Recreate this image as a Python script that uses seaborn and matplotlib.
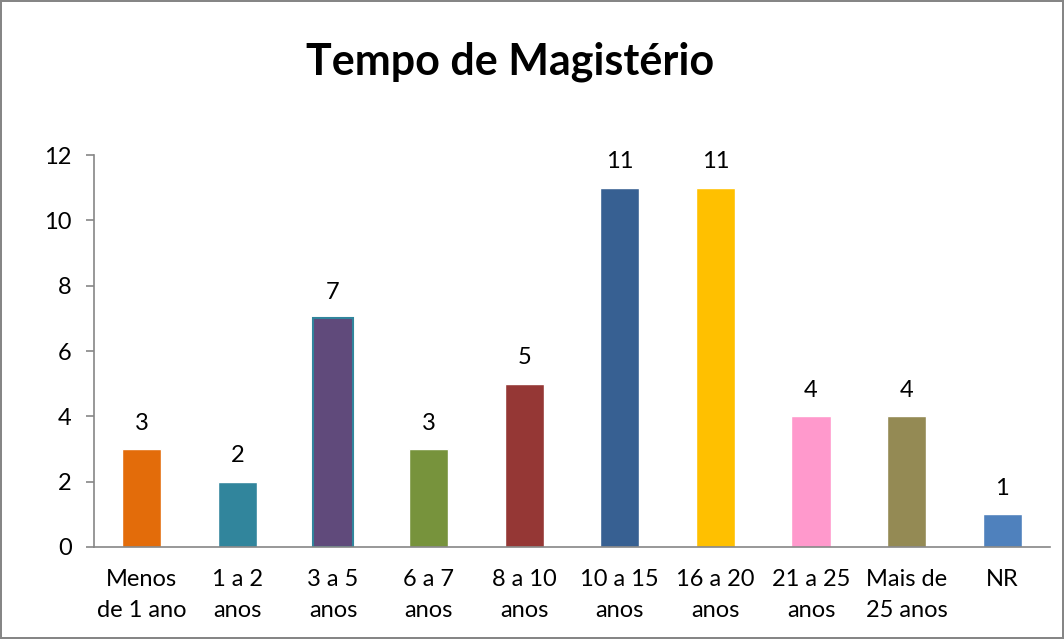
import numpy as np
import pandas as pd
import seaborn as sns
import matplotlib.pyplot as plt
from matplotlib.ticker import FixedLocator

# data
categories = ['Menos\nde 1 ano', '1 a 2\nanos', '3 a 5\nanos', '6 a 7\nanos', '8 a 10\nanos',
              '10 a 15\nanos', '16 a 20\nanos', '21 a 25\nanos', 'Mais de\n25 anos', 'NR']
counts = [3, 2, 7, 3, 5, 11, 11, 4, 4, 1]
colors = ['#E36C0A', '#31859C', '#604A7B', '#77933C', '#953735',
          '#376092', '#FFC000', '#FF99CC', '#948A54', '#4F81BD']

df = pd.DataFrame({'Tempo': categories, 'Qtd': counts})

sns.set_style('white', {'text.color': 'black', 'xtick.color': 'black', 'ytick.color': 'black'})
plt.rcParams['font.family'] = ['Lato', 'DejaVu Sans']

fig = plt.figure(figsize=(10.64, 6.39), dpi=100)
fig.patch.set_edgecolor('#868686')
fig.patch.set_linewidth(1.5)
ax = fig.add_axes([0.0883, 0.144, 0.8985, 0.6134])

sns.barplot(data=df, x='Tempo', y='Qtd', hue='Tempo', palette=colors,
            width=0.41, legend=False, ax=ax, saturation=1)
ax.patches[2].set_edgecolor('#31859C')
ax.patches[2].set_linewidth(1.5)

for c in ax.containers:
    ax.bar_label(c, padding=11, fontsize=17, color='black')

ax.set_ylim(0, 12)
ax.set_xlim(-0.5, len(categories) - 0.5)
ax.set_yticks(range(0, 13, 2))
ax.set_xlabel('')
ax.set_ylabel('')
for s in ['top', 'right']:
    ax.spines[s].set_visible(False)
for s in ['left', 'bottom']:
    ax.spines[s].set_color('#868686')
    ax.spines[s].set_linewidth(1.2)

ax.tick_params(axis='x', which='major', length=0, labelsize=17, pad=16, labelcolor='black')
for lbl in ax.get_xticklabels():
    lbl.set_linespacing(1.55)
ax.xaxis.set_minor_locator(FixedLocator(np.arange(-0.5, len(categories), 1)))
ax.tick_params(axis='x', which='minor', length=6, color='#868686', width=1.2, direction='out')
ax.tick_params(axis='y', length=6, color='#868686', width=1.2, direction='out',
               labelsize=17, pad=10, left=True, labelcolor='black')

fig.text(0.479, 0.903, 'Tempo de Magistério', ha='center', va='center',
         fontsize=31, fontweight='bold', color='black')

fig.savefig('out.png', dpi=100)
